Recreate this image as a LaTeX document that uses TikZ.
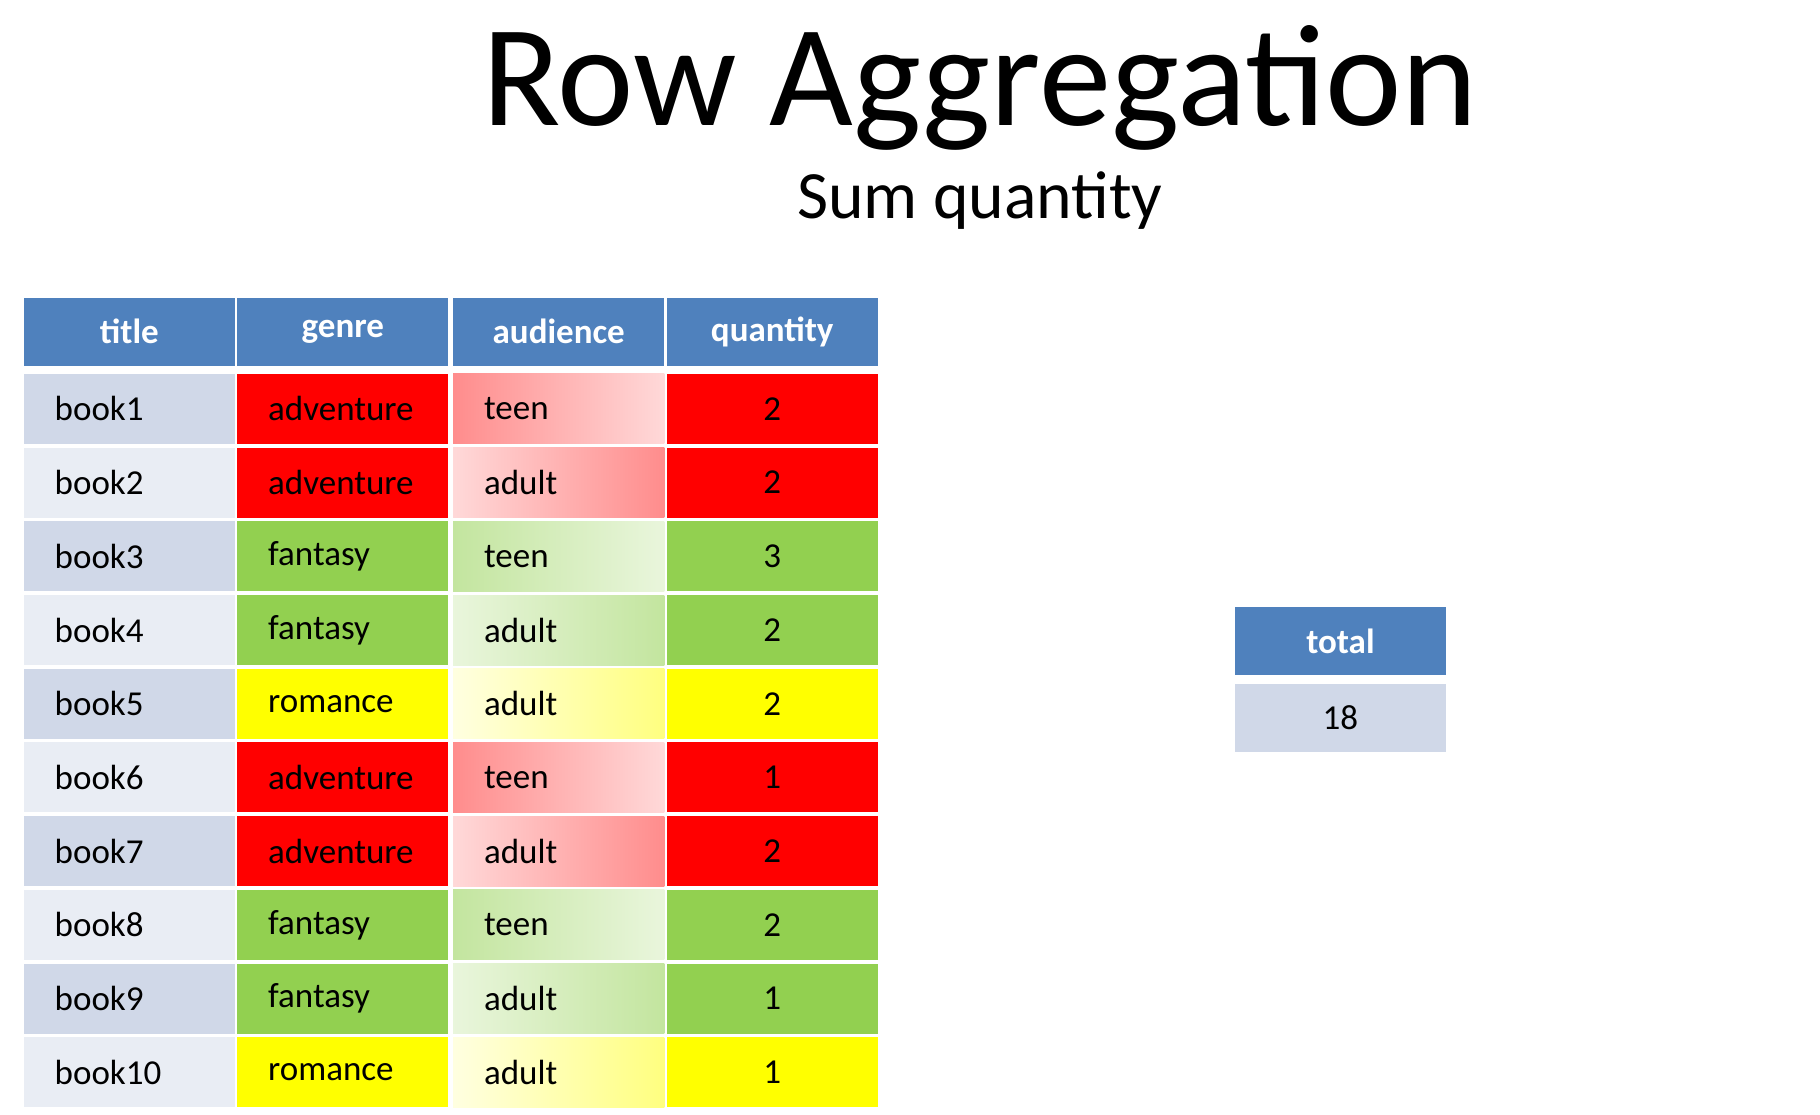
\documentclass[tikz,border=0pt]{standalone}
\usepackage{fontspec}
\setmainfont{Carlito}
\begin{document}
\begin{tikzpicture}[x=0.5pt,y=-0.5pt,
  cell/.style={minimum width=90.5pt,minimum height=30pt,inner sep=0pt,anchor=north west,font=\fontsize{15}{18}\selectfont},
  hdr/.style={cell,fill=hdrblue,text=white,minimum height=29pt,font=\fontsize{15}{18}\selectfont\bfseries},
  lft/.style={cell,text width=80pt,align=left}]
\definecolor{hdrblue}{HTML}{4F81BD}
\definecolor{tdark}{HTML}{D0D8E8}
\definecolor{tlight}{HTML}{E9EDF4}
\definecolor{cR}{HTML}{FF0000}
\definecolor{cG}{HTML}{92D050}
\definecolor{cY}{HTML}{FFFF00}
\colorlet{Rdk}{red!45!white}\colorlet{Rlt}{red!15!white}
\colorlet{Gdk}{cG!55!white}\colorlet{Glt}{cG!20!white}
\colorlet{Ydk}{cY!50!white}\colorlet{Ylt}{cY!12!white}
\useasboundingbox (0,0) rectangle (1560,955);
\node (ttl) at (840,75) {\fontsize{62}{70}\selectfont Row Aggregation};
\node (sub) at (840,172) {\fontsize{29}{34}\selectfont Sum quantity};
\node[hdr] (h1) at (20,255) {title};
\node[hdr] (h2) at (203,255) {genre};
\node[hdr] (h3) at (388,255) {audience};
\node[hdr] (h4) at (571,255) {quantity};
\foreach \i/\t/\g/\c/\a/\q/\d in {1/book1/adventure/R/teen/2/t,2/book2/adventure/R/adult/2/a,3/book3/fantasy/G/teen/3/t,4/book4/fantasy/G/adult/2/a,5/book5/romance/Y/adult/2/a,6/book6/adventure/R/teen/1/t,7/book7/adventure/R/adult/2/a,8/book8/fantasy/G/teen/2/t,9/book9/fantasy/G/adult/1/a,10/book10/romance/Y/adult/1/a}{
  \pgfmathsetmacro{\yy}{320+(\i-1)*63.2}
  \pgfmathtruncatemacro{\odd}{mod(\i,2)}
  \ifnum\odd=1 \def\tc{tdark}\else\def\tc{tlight}\fi
  \node[lft,fill=\tc] (t\i) at (20,\yy) {\hspace*{8pt}\t};
  \node[lft,fill=c\c] (g\i) at (203,\yy) {\hspace*{8pt}\g};
  \if\d t
    \node[lft,left color=\c dk,right color=\c lt] (a\i) at (388,\yy) {\hspace*{8pt}\a};
  \else
    \node[lft,left color=\c lt,right color=\c dk] (a\i) at (388,\yy) {\hspace*{8pt}\a};
  \fi
  \node[cell,fill=c\c] (q\i) at (571,\yy) {\q};
}
\node[hdr] (th) at (1058,520) {total};
\node[cell,fill=tdark,minimum height=29pt] (tv) at (1058,586) {18};
\end{tikzpicture}
\end{document}
